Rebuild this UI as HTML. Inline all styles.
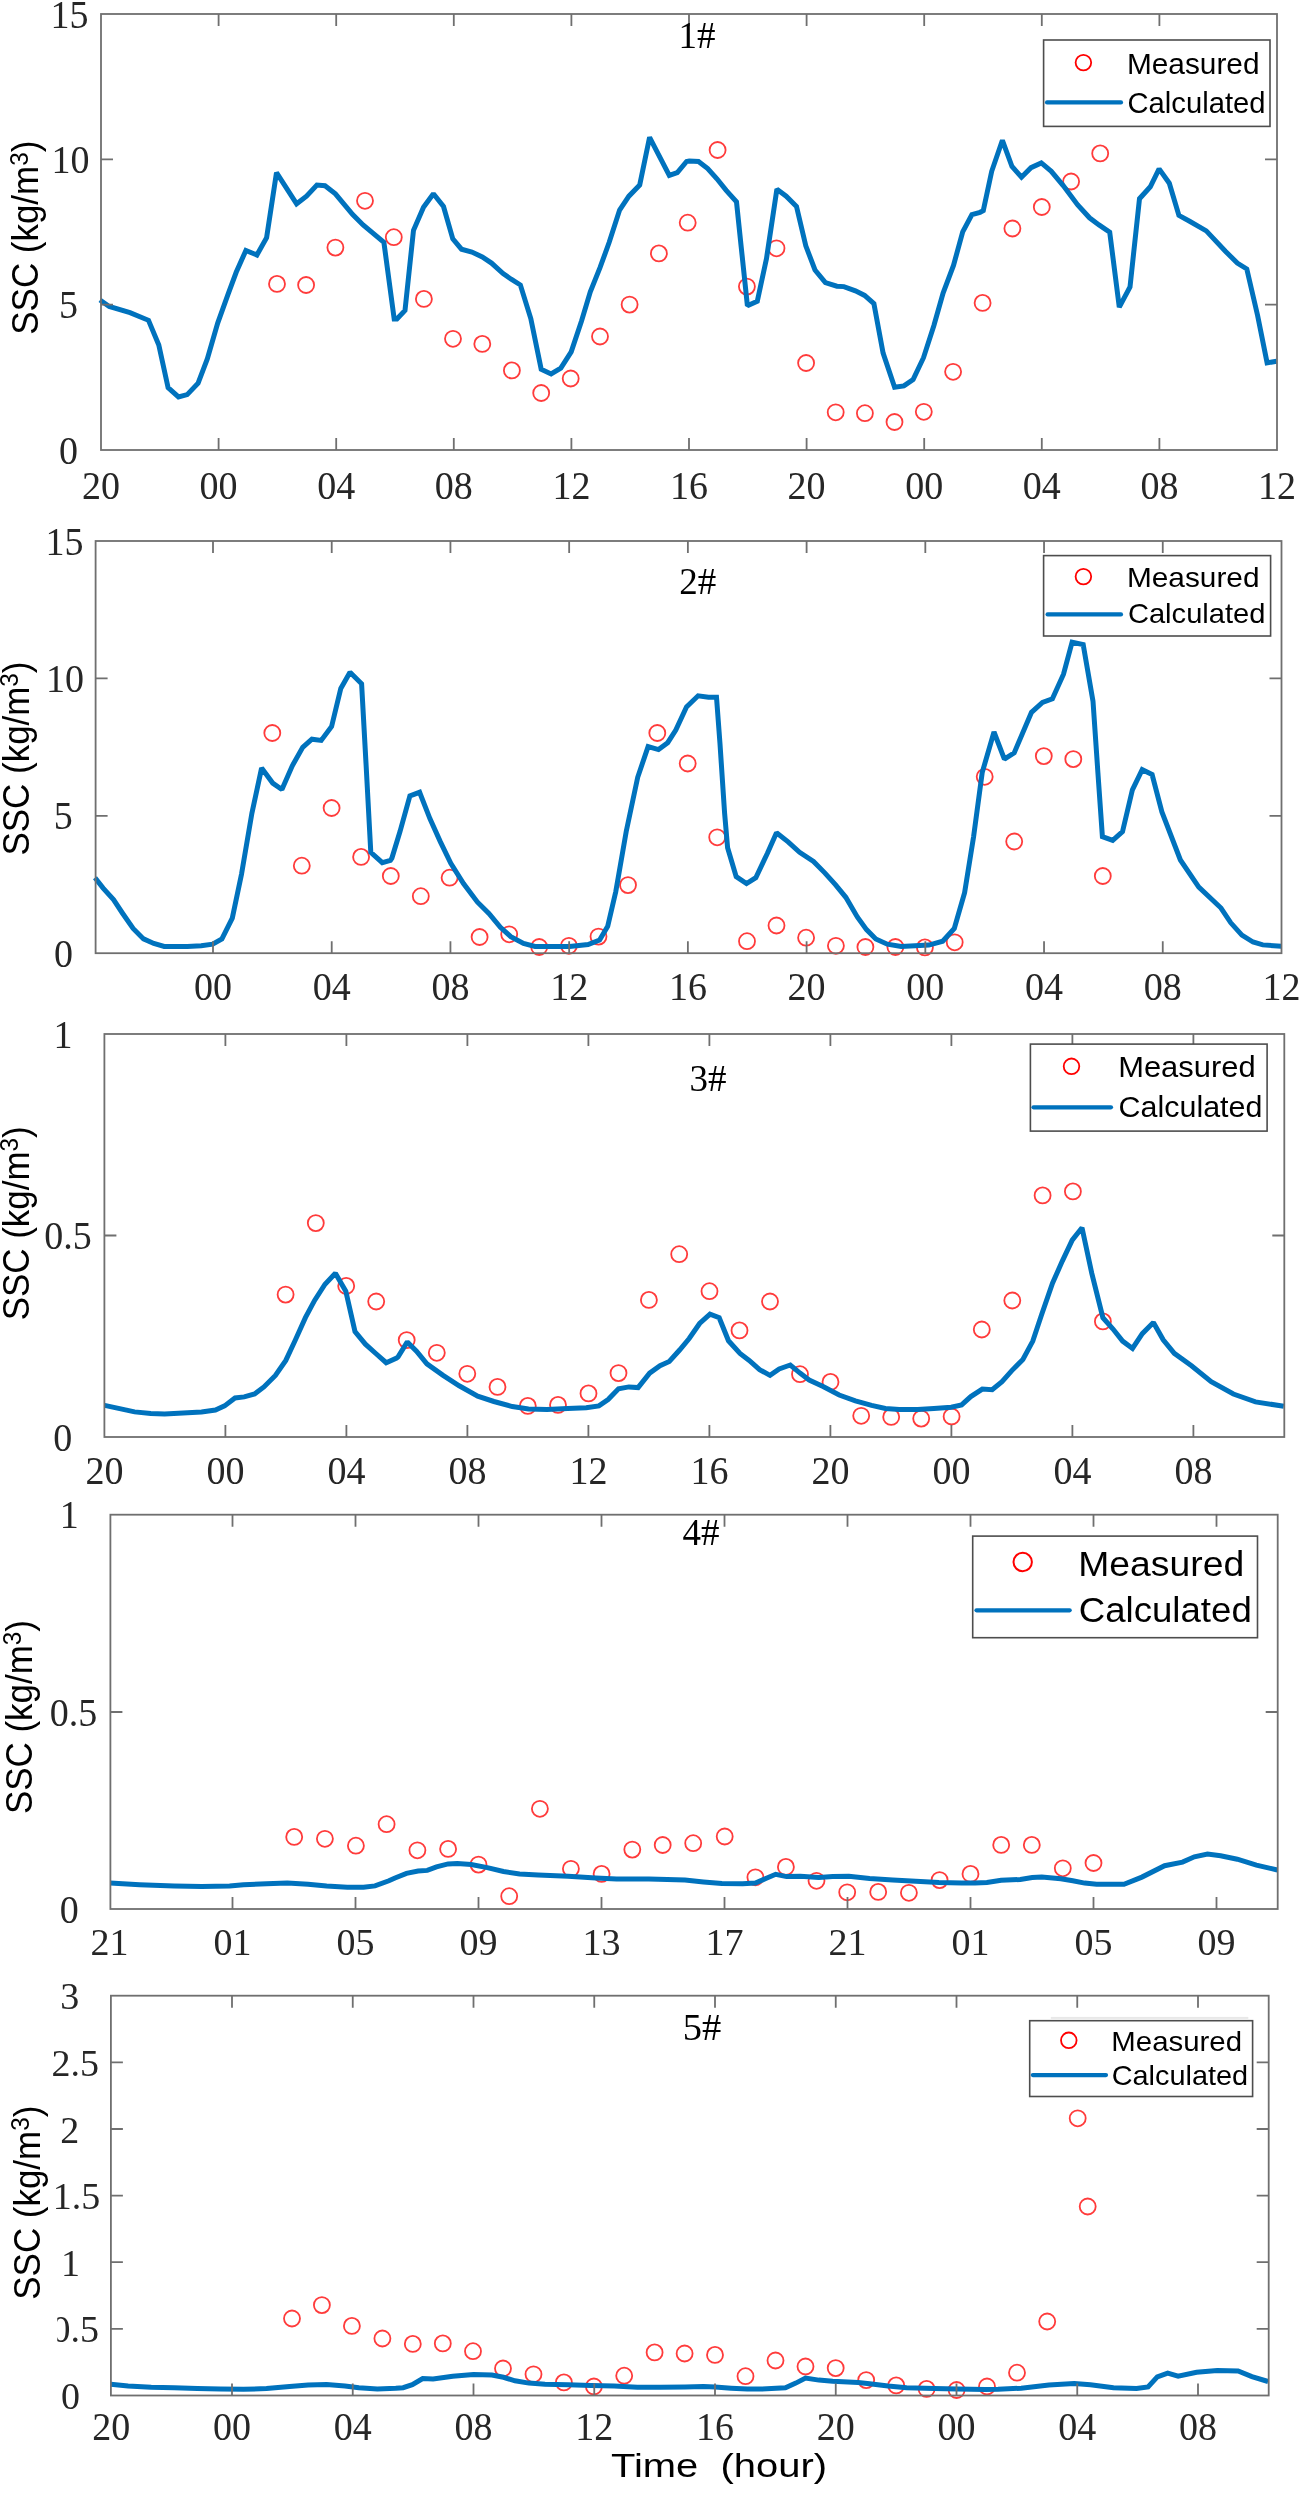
<!DOCTYPE html>
<html><head><meta charset="utf-8"><style>
html,body{margin:0;padding:0;background:#fff;width:1300px;height:2500px;overflow:hidden}
svg{display:block;will-change:transform}
.t{font-family:"Liberation Serif",serif;fill:#262626}
.ti{font-family:"Liberation Serif",serif;fill:#000}
.s{font-family:"Liberation Sans",sans-serif;fill:#000}
</style></head><body>
<svg width="1300" height="2500" viewBox="0 0 1300 2500">
<g><circle cx="277" cy="283.9" r="8" fill="none" stroke="#ff3b3b" stroke-width="1.8"/>
<circle cx="306.1" cy="285" r="8" fill="none" stroke="#ff3b3b" stroke-width="1.8"/>
<circle cx="335.4" cy="247.6" r="8" fill="none" stroke="#ff3b3b" stroke-width="1.8"/>
<circle cx="365" cy="200.8" r="8" fill="none" stroke="#ff3b3b" stroke-width="1.8"/>
<circle cx="393.8" cy="237.2" r="8" fill="none" stroke="#ff3b3b" stroke-width="1.8"/>
<circle cx="423.9" cy="298.9" r="8" fill="none" stroke="#ff3b3b" stroke-width="1.8"/>
<circle cx="453" cy="338.8" r="8" fill="none" stroke="#ff3b3b" stroke-width="1.8"/>
<circle cx="482.3" cy="343.9" r="8" fill="none" stroke="#ff3b3b" stroke-width="1.8"/>
<circle cx="511.9" cy="370.4" r="8" fill="none" stroke="#ff3b3b" stroke-width="1.8"/>
<circle cx="541.2" cy="393" r="8" fill="none" stroke="#ff3b3b" stroke-width="1.8"/>
<circle cx="570.7" cy="378.5" r="8" fill="none" stroke="#ff3b3b" stroke-width="1.8"/>
<circle cx="600" cy="336.5" r="8" fill="none" stroke="#ff3b3b" stroke-width="1.8"/>
<circle cx="629.6" cy="304.6" r="8" fill="none" stroke="#ff3b3b" stroke-width="1.8"/>
<circle cx="658.9" cy="253.4" r="8" fill="none" stroke="#ff3b3b" stroke-width="1.8"/>
<circle cx="687.7" cy="222.7" r="8" fill="none" stroke="#ff3b3b" stroke-width="1.8"/>
<circle cx="717.6" cy="150" r="8" fill="none" stroke="#ff3b3b" stroke-width="1.8"/>
<circle cx="746.9" cy="286.6" r="8" fill="none" stroke="#ff3b3b" stroke-width="1.8"/>
<circle cx="776.5" cy="248.3" r="8" fill="none" stroke="#ff3b3b" stroke-width="1.8"/>
<circle cx="806.1" cy="363" r="8" fill="none" stroke="#ff3b3b" stroke-width="1.8"/>
<circle cx="835.7" cy="412.3" r="8" fill="none" stroke="#ff3b3b" stroke-width="1.8"/>
<circle cx="864.9" cy="413.2" r="8" fill="none" stroke="#ff3b3b" stroke-width="1.8"/>
<circle cx="894.5" cy="422" r="8" fill="none" stroke="#ff3b3b" stroke-width="1.8"/>
<circle cx="923.8" cy="411.8" r="8" fill="none" stroke="#ff3b3b" stroke-width="1.8"/>
<circle cx="953.1" cy="371.8" r="8" fill="none" stroke="#ff3b3b" stroke-width="1.8"/>
<circle cx="982.6" cy="302.9" r="8" fill="none" stroke="#ff3b3b" stroke-width="1.8"/>
<circle cx="1012.4" cy="228.5" r="8" fill="none" stroke="#ff3b3b" stroke-width="1.8"/>
<circle cx="1041.8" cy="207" r="8" fill="none" stroke="#ff3b3b" stroke-width="1.8"/>
<circle cx="1071.1" cy="181.5" r="8" fill="none" stroke="#ff3b3b" stroke-width="1.8"/>
<circle cx="1100.2" cy="153.4" r="8" fill="none" stroke="#ff3b3b" stroke-width="1.8"/>
<polyline points="100,300 109.2,306.5 130,312.7 148.5,320.3 158.8,345 168.1,387.7 178.5,396.9 187.2,394.6 198.1,383.1 207.3,358.9 217.7,323.1 228.1,294.2 236.2,272.3 245.9,250.4 256.9,255 266.6,237.7 276.5,172.6 296.6,203.8 306.5,196.2 316.9,185.1 325,185.8 335.4,193.8 352.7,214.6 363.1,225 383.9,242.3 394.2,319 396.9,319 405,310.4 413.5,230.3 423.5,207.2 433.4,193.8 443.5,206.5 452.8,238.9 461.5,249.2 471.9,252 482.3,256.9 491.5,263.1 503.1,273.5 511.2,279.2 520.4,285 530.8,318.5 541.2,369.2 551.1,373.9 560.8,368.1 571.2,351.9 581.6,320.8 590.3,291.9 600,267.7 609.2,242.3 619.6,210 628.9,196.2 639.7,185.1 649.6,137.3 669.3,175.4 677.3,172.6 686.6,161.5 689.2,161.1 698.5,161.5 707.7,168.5 716.9,178.8 726.2,190.4 736.5,201.9 741.2,246.9 747.4,305.8 757.3,301.2 766.5,258.5 776.9,189.2 786.2,196.2 796.5,206.5 805.8,245.8 815,270 825.4,282.7 836.9,286.2 843.9,286.6 855.4,290.8 864.6,295.4 873.9,303.5 883.1,353.1 894.6,387.3 903.9,385.9 913.1,379.6 923.5,357.7 933.9,325.4 943.1,293.1 953.5,265.4 962.7,231.9 971.9,214.6 980,212.3 983.3,210.6 991.7,171.3 1002.4,140.3 1012,166.5 1021.5,177.2 1031,167.7 1041.3,162.9 1051.3,171.3 1063.2,185.6 1077.5,204.7 1089.5,217.8 1099,224.9 1109.7,232.1 1119.3,307.2 1130,286.9 1139.5,198.7 1150.3,186.8 1159.1,168.9 1169.3,183.2 1178.9,215.4 1189.6,221.3 1206.3,230.9 1225.4,251.2 1237.3,263.1 1246.8,269 1257.6,315.5 1267.1,362.8 1276.7,361.3" fill="none" stroke="#0072bd" stroke-width="5" stroke-linejoin="miter" stroke-miterlimit="1.5"/>
<rect x="101" y="14" width="1176" height="436" fill="none" stroke="#6f6f6f" stroke-width="1.8"/>
<path d="M218.6 450V438M218.6 14V26M336.2 450V438M336.2 14V26M453.8 450V438M453.8 14V26M571.4 450V438M571.4 14V26M689 450V438M689 14V26M806.6 450V438M806.6 14V26M924.2 450V438M924.2 14V26M1041.8 450V438M1041.8 14V26M1159.4 450V438M1159.4 14V26M101 304.7H113M1277 304.7H1265M101 159.3H113M1277 159.3H1265" stroke="#6f6f6f" stroke-width="1.8" fill="none"/>
<text transform="translate(101,499) scale(1,1.07)" text-anchor="middle" class="t" font-size="38">20</text>
<text transform="translate(218.6,499) scale(1,1.07)" text-anchor="middle" class="t" font-size="38">00</text>
<text transform="translate(336.2,499) scale(1,1.07)" text-anchor="middle" class="t" font-size="38">04</text>
<text transform="translate(453.8,499) scale(1,1.07)" text-anchor="middle" class="t" font-size="38">08</text>
<text transform="translate(571.4,499) scale(1,1.07)" text-anchor="middle" class="t" font-size="38">12</text>
<text transform="translate(689,499) scale(1,1.07)" text-anchor="middle" class="t" font-size="38">16</text>
<text transform="translate(806.6,499) scale(1,1.07)" text-anchor="middle" class="t" font-size="38">20</text>
<text transform="translate(924.2,499) scale(1,1.07)" text-anchor="middle" class="t" font-size="38">00</text>
<text transform="translate(1041.8,499) scale(1,1.07)" text-anchor="middle" class="t" font-size="38">04</text>
<text transform="translate(1159.4,499) scale(1,1.07)" text-anchor="middle" class="t" font-size="38">08</text>
<text transform="translate(1277,499) scale(1,1.07)" text-anchor="middle" class="t" font-size="38">12</text>
<text transform="translate(68.5,463.5) scale(1,1.07)" text-anchor="middle" class="t" font-size="38">0</text>
<text transform="translate(68.5,318.2) scale(1,1.07)" text-anchor="middle" class="t" font-size="38">5</text>
<text transform="translate(70.6,172.8) scale(1,1.07)" text-anchor="middle" class="t" font-size="38">10</text>
<text transform="translate(69.6,27.5) scale(1,1.07)" text-anchor="middle" class="t" font-size="38">15</text>
<text x="697" y="48" text-anchor="middle" class="ti" font-size="37">1#</text>
<rect x="1043.6" y="40" width="226.4" height="86.4" fill="#fff" stroke="#4d4d4d" stroke-width="1.6"/>
<circle cx="1083.4" cy="62.6" r="7.8" fill="none" stroke="#ff0000" stroke-width="1.8"/>
<line x1="1047" x2="1121" y1="102.4" y2="102.4" stroke="#0072bd" stroke-width="4.2" stroke-linecap="round"/>
<text x="1126.95" y="74" class="s" font-size="30" textLength="132.56698081071858" lengthAdjust="spacingAndGlyphs">Measured</text>
<text x="1127.52" y="113" class="s" font-size="30" textLength="137.9646435758923" lengthAdjust="spacingAndGlyphs">Calculated</text>
<text transform="translate(38.29,237.7) rotate(-90)" text-anchor="middle" class="s" font-size="36" textLength="194" lengthAdjust="spacingAndGlyphs">SSC (kg/m<tspan dy="-10.5" font-size="25">3</tspan><tspan dy="10.5">)</tspan></text>
</g>
<g><circle cx="272.3" cy="733" r="8" fill="none" stroke="#ff3b3b" stroke-width="1.8"/>
<circle cx="301.8" cy="865.7" r="8" fill="none" stroke="#ff3b3b" stroke-width="1.8"/>
<circle cx="331.6" cy="808" r="8" fill="none" stroke="#ff3b3b" stroke-width="1.8"/>
<circle cx="361.1" cy="856.9" r="8" fill="none" stroke="#ff3b3b" stroke-width="1.8"/>
<circle cx="390.8" cy="876" r="8" fill="none" stroke="#ff3b3b" stroke-width="1.8"/>
<circle cx="420.8" cy="896.2" r="8" fill="none" stroke="#ff3b3b" stroke-width="1.8"/>
<circle cx="449.6" cy="877.7" r="8" fill="none" stroke="#ff3b3b" stroke-width="1.8"/>
<circle cx="479.6" cy="937" r="8" fill="none" stroke="#ff3b3b" stroke-width="1.8"/>
<circle cx="509.2" cy="934.3" r="8" fill="none" stroke="#ff3b3b" stroke-width="1.8"/>
<circle cx="539.2" cy="947" r="8" fill="none" stroke="#ff3b3b" stroke-width="1.8"/>
<circle cx="568.9" cy="945.8" r="8" fill="none" stroke="#ff3b3b" stroke-width="1.8"/>
<circle cx="598.5" cy="936.6" r="8" fill="none" stroke="#ff3b3b" stroke-width="1.8"/>
<circle cx="628" cy="885.1" r="8" fill="none" stroke="#ff3b3b" stroke-width="1.8"/>
<circle cx="657.3" cy="733" r="8" fill="none" stroke="#ff3b3b" stroke-width="1.8"/>
<circle cx="687.7" cy="763.5" r="8" fill="none" stroke="#ff3b3b" stroke-width="1.8"/>
<circle cx="717.2" cy="837.3" r="8" fill="none" stroke="#ff3b3b" stroke-width="1.8"/>
<circle cx="747" cy="941.2" r="8" fill="none" stroke="#ff3b3b" stroke-width="1.8"/>
<circle cx="776.5" cy="925.5" r="8" fill="none" stroke="#ff3b3b" stroke-width="1.8"/>
<circle cx="806.1" cy="937.7" r="8" fill="none" stroke="#ff3b3b" stroke-width="1.8"/>
<circle cx="835.9" cy="945.8" r="8" fill="none" stroke="#ff3b3b" stroke-width="1.8"/>
<circle cx="865.4" cy="947" r="8" fill="none" stroke="#ff3b3b" stroke-width="1.8"/>
<circle cx="895.4" cy="947" r="8" fill="none" stroke="#ff3b3b" stroke-width="1.8"/>
<circle cx="924.9" cy="947.4" r="8" fill="none" stroke="#ff3b3b" stroke-width="1.8"/>
<circle cx="954.7" cy="942.3" r="8" fill="none" stroke="#ff3b3b" stroke-width="1.8"/>
<circle cx="984.7" cy="776.8" r="8" fill="none" stroke="#ff3b3b" stroke-width="1.8"/>
<circle cx="1014.2" cy="841.5" r="8" fill="none" stroke="#ff3b3b" stroke-width="1.8"/>
<circle cx="1043.8" cy="756.1" r="8" fill="none" stroke="#ff3b3b" stroke-width="1.8"/>
<circle cx="1073.3" cy="759.1" r="8" fill="none" stroke="#ff3b3b" stroke-width="1.8"/>
<circle cx="1102.8" cy="876" r="8" fill="none" stroke="#ff3b3b" stroke-width="1.8"/>
<polyline points="95,877.7 103.1,888.1 113.5,899.6 122.7,913.5 133.1,928.5 143.5,938.9 153.8,943.5 164.2,946.5 187.3,946.5 201.2,945.8 212.7,944.2 221.9,938.9 232.3,918.1 241.5,874.2 251.9,813.1 261.6,768.1 272.7,783.1 281.9,789.5 292.3,765.8 302.7,747.3 311.9,739.2 321.2,740.4 331.6,726.5 340.8,688.5 350,672.3 361.6,683.8 366.2,766.9 370.8,852.3 382.3,862.7 390.4,860.4 391.9,858.1 400,831.6 409.9,795.8 419.6,792.3 430,818.9 440.4,841.9 450.8,863.4 463.5,883.5 477.3,901.9 488.9,913.5 500.4,927.3 510.8,936.6 523.5,943.5 535,946.5 569.6,946.5 588.1,944.6 599.6,940 607.7,926.2 615.8,891.5 626.2,831.6 637.7,777.3 648.1,746.6 658.5,749.6 667.7,742.7 675.8,730 686.5,706.9 698.1,695.8 708.5,697.2 716.5,697.2 720,743.9 724.6,813.1 727.6,847.7 736.2,876.6 746.5,883.5 755.8,877.7 767.3,853.5 776.5,832.7 788.1,841.9 799.6,852.3 813.5,861.5 825,873.1 835.4,884.6 845.8,897.3 857.3,916.9 866.5,929.6 875.8,938.9 887.3,944.2 901.2,946.5 928.9,945.1 942.7,941.2 954.3,928.5 964.6,892.7 973.6,836.6 982.2,772.6 994,732 1004.4,759.1 1014.2,752.9 1031.5,712.3 1042.5,702.5 1052.4,698.8 1063.5,674.2 1072.1,642.2 1083.2,644.6 1093,701.2 1097.9,772.6 1102.4,836.6 1112.7,840.3 1122.5,831.7 1132.4,789.8 1142.2,769.7 1152.1,774.6 1161.9,812 1180.4,860 1198.8,887.1 1221,908 1230.8,922.8 1241.9,935.1 1253,942 1262.8,944.9 1281.3,946.2" fill="none" stroke="#0072bd" stroke-width="5" stroke-linejoin="miter" stroke-miterlimit="1.5"/>
<rect x="95.6" y="541" width="1185.9" height="412.2" fill="none" stroke="#6f6f6f" stroke-width="1.8"/>
<path d="M213 953.2V941.2M213 541V553M331.72 953.2V941.2M331.72 541V553M450.44 953.2V941.2M450.44 541V553M569.16 953.2V941.2M569.16 541V553M687.88 953.2V941.2M687.88 541V553M806.6 953.2V941.2M806.6 541V553M925.32 953.2V941.2M925.32 541V553M1044.04 953.2V941.2M1044.04 541V553M1162.76 953.2V941.2M1162.76 541V553M95.6 815.8H107.6M1281.5 815.8H1269.5M95.6 678.4H107.6M1281.5 678.4H1269.5" stroke="#6f6f6f" stroke-width="1.8" fill="none"/>
<text transform="translate(213,1000) scale(1,1.07)" text-anchor="middle" class="t" font-size="38">00</text>
<text transform="translate(331.72,1000) scale(1,1.07)" text-anchor="middle" class="t" font-size="38">04</text>
<text transform="translate(450.44,1000) scale(1,1.07)" text-anchor="middle" class="t" font-size="38">08</text>
<text transform="translate(569.16,1000) scale(1,1.07)" text-anchor="middle" class="t" font-size="38">12</text>
<text transform="translate(687.88,1000) scale(1,1.07)" text-anchor="middle" class="t" font-size="38">16</text>
<text transform="translate(806.6,1000) scale(1,1.07)" text-anchor="middle" class="t" font-size="38">20</text>
<text transform="translate(925.32,1000) scale(1,1.07)" text-anchor="middle" class="t" font-size="38">00</text>
<text transform="translate(1044.04,1000) scale(1,1.07)" text-anchor="middle" class="t" font-size="38">04</text>
<text transform="translate(1162.76,1000) scale(1,1.07)" text-anchor="middle" class="t" font-size="38">08</text>
<text transform="translate(1281.48,1000) scale(1,1.07)" text-anchor="middle" class="t" font-size="38">12</text>
<text transform="translate(63.5,966.7) scale(1,1.07)" text-anchor="middle" class="t" font-size="38">0</text>
<text transform="translate(63.3,829.3) scale(1,1.07)" text-anchor="middle" class="t" font-size="38">5</text>
<text transform="translate(65,691.9) scale(1,1.07)" text-anchor="middle" class="t" font-size="38">10</text>
<text transform="translate(64.5,554.5) scale(1,1.07)" text-anchor="middle" class="t" font-size="38">15</text>
<text x="697.7" y="594" text-anchor="middle" class="ti" font-size="37">2#</text>
<rect x="1043.6" y="555.6" width="227" height="80.4" fill="#fff" stroke="#4d4d4d" stroke-width="1.6"/>
<circle cx="1083.4" cy="576.6" r="7.8" fill="none" stroke="#ff0000" stroke-width="1.8"/>
<line x1="1047.6" x2="1121" y1="614.4" y2="614.4" stroke="#0072bd" stroke-width="4.2" stroke-linecap="round"/>
<text x="1126.95" y="587" class="s" font-size="28" textLength="132.56698081071858" lengthAdjust="spacingAndGlyphs">Measured</text>
<text x="1127.92" y="623" class="s" font-size="28" textLength="137.55464463510202" lengthAdjust="spacingAndGlyphs">Calculated</text>
<text transform="translate(28.89,758.5) rotate(-90)" text-anchor="middle" class="s" font-size="36" textLength="194" lengthAdjust="spacingAndGlyphs">SSC (kg/m<tspan dy="-10.5" font-size="25">3</tspan><tspan dy="10.5">)</tspan></text>
</g>
<g><circle cx="285.6" cy="1294.6" r="8" fill="none" stroke="#ff3b3b" stroke-width="1.8"/>
<circle cx="315.8" cy="1223.1" r="8" fill="none" stroke="#ff3b3b" stroke-width="1.8"/>
<circle cx="346.2" cy="1285.9" r="8" fill="none" stroke="#ff3b3b" stroke-width="1.8"/>
<circle cx="376.2" cy="1301.5" r="8" fill="none" stroke="#ff3b3b" stroke-width="1.8"/>
<circle cx="406.7" cy="1340.1" r="8" fill="none" stroke="#ff3b3b" stroke-width="1.8"/>
<circle cx="436.8" cy="1352.8" r="8" fill="none" stroke="#ff3b3b" stroke-width="1.8"/>
<circle cx="467.3" cy="1373.8" r="8" fill="none" stroke="#ff3b3b" stroke-width="1.8"/>
<circle cx="497.5" cy="1386.9" r="8" fill="none" stroke="#ff3b3b" stroke-width="1.8"/>
<circle cx="527.8" cy="1405.9" r="8" fill="none" stroke="#ff3b3b" stroke-width="1.8"/>
<circle cx="558" cy="1404.9" r="8" fill="none" stroke="#ff3b3b" stroke-width="1.8"/>
<circle cx="588.5" cy="1393.4" r="8" fill="none" stroke="#ff3b3b" stroke-width="1.8"/>
<circle cx="618.5" cy="1373.1" r="8" fill="none" stroke="#ff3b3b" stroke-width="1.8"/>
<circle cx="648.9" cy="1299.9" r="8" fill="none" stroke="#ff3b3b" stroke-width="1.8"/>
<circle cx="679.2" cy="1254.2" r="8" fill="none" stroke="#ff3b3b" stroke-width="1.8"/>
<circle cx="709.5" cy="1291.2" r="8" fill="none" stroke="#ff3b3b" stroke-width="1.8"/>
<circle cx="739.5" cy="1330.4" r="8" fill="none" stroke="#ff3b3b" stroke-width="1.8"/>
<circle cx="770" cy="1301.5" r="8" fill="none" stroke="#ff3b3b" stroke-width="1.8"/>
<circle cx="800" cy="1374.2" r="8" fill="none" stroke="#ff3b3b" stroke-width="1.8"/>
<circle cx="830.5" cy="1381.9" r="8" fill="none" stroke="#ff3b3b" stroke-width="1.8"/>
<circle cx="861.2" cy="1415.8" r="8" fill="none" stroke="#ff3b3b" stroke-width="1.8"/>
<circle cx="891.2" cy="1416.9" r="8" fill="none" stroke="#ff3b3b" stroke-width="1.8"/>
<circle cx="921.2" cy="1418.6" r="8" fill="none" stroke="#ff3b3b" stroke-width="1.8"/>
<circle cx="951.6" cy="1416.5" r="8" fill="none" stroke="#ff3b3b" stroke-width="1.8"/>
<circle cx="981.8" cy="1329.5" r="8" fill="none" stroke="#ff3b3b" stroke-width="1.8"/>
<circle cx="1012.3" cy="1300.5" r="8" fill="none" stroke="#ff3b3b" stroke-width="1.8"/>
<circle cx="1042.6" cy="1195.4" r="8" fill="none" stroke="#ff3b3b" stroke-width="1.8"/>
<circle cx="1072.9" cy="1191.4" r="8" fill="none" stroke="#ff3b3b" stroke-width="1.8"/>
<circle cx="1102.9" cy="1321.4" r="8" fill="none" stroke="#ff3b3b" stroke-width="1.8"/>
<polyline points="104.6,1405.4 118.5,1408.4 134.6,1411.9 150.8,1413.5 164.6,1413.9 187.7,1412.8 201.5,1411.9 215.4,1410 224.6,1405.9 235,1398 244.2,1396.9 254.6,1393.9 263.9,1386.9 275.4,1375.4 285.8,1360.4 295,1340.8 305.4,1317.7 314.6,1300.4 325,1284.2 335.4,1273.2 345.8,1291.2 355,1331.6 365.4,1344.2 375.8,1353.5 386.2,1362.7 396.6,1358.1 398.1,1356.9 407.3,1341.9 416.5,1351.2 426.9,1363.9 443.1,1375.4 459.2,1385.8 477.7,1396.2 493.9,1401.5 512.3,1406.6 528.5,1408.9 546.9,1409.6 567.7,1408.4 586.2,1407.7 598.9,1405.9 608.1,1399.6 618.5,1388.8 628.9,1386.9 638.1,1387.6 649.6,1373.1 660,1365.7 669.3,1361.5 679.6,1350 689.2,1338.5 699.6,1323.5 710,1314.2 719.2,1317.7 728.5,1340.8 740,1353.5 749.2,1360.4 759.6,1369.6 770,1375.4 779.2,1368.9 790.3,1365 800,1373.1 809.2,1380 823.1,1386.5 839.2,1395 855.4,1400.8 871.6,1405.4 885.4,1408.4 899.2,1409.6 917.7,1409.6 933.9,1408.4 951.2,1407.2 961.6,1404.9 970.8,1396.6 982.3,1389.1 992.2,1389.8 1002,1381.7 1011.8,1370.6 1022.9,1359.5 1032.8,1341.1 1041.4,1315.2 1052.5,1283.2 1062.3,1261.1 1072.2,1240.2 1082,1227.8 1091.8,1273.4 1102.9,1317.7 1112.8,1328.8 1122.6,1341.1 1132.5,1348.5 1142.3,1333.7 1153.4,1322.6 1163.2,1339.8 1174.3,1353.4 1191.5,1365.7 1211.2,1381.7 1233.4,1394 1255.5,1401.9 1283.8,1406.3" fill="none" stroke="#0072bd" stroke-width="5" stroke-linejoin="miter" stroke-miterlimit="1.5"/>
<rect x="104.4" y="1034" width="1179.9" height="403" fill="none" stroke="#6f6f6f" stroke-width="1.8"/>
<path d="M225.4 1437V1425M225.4 1034V1046M346.4 1437V1425M346.4 1034V1046M467.4 1437V1425M467.4 1034V1046M588.4 1437V1425M588.4 1034V1046M709.4 1437V1425M709.4 1034V1046M830.4 1437V1425M830.4 1034V1046M951.4 1437V1425M951.4 1034V1046M1072.4 1437V1425M1072.4 1034V1046M1193.4 1437V1425M1193.4 1034V1046M104.4 1235.5H116.4M1284.3 1235.5H1272.3" stroke="#6f6f6f" stroke-width="1.8" fill="none"/>
<text transform="translate(104.4,1484) scale(1,1.07)" text-anchor="middle" class="t" font-size="38">20</text>
<text transform="translate(225.4,1484) scale(1,1.07)" text-anchor="middle" class="t" font-size="38">00</text>
<text transform="translate(346.4,1484) scale(1,1.07)" text-anchor="middle" class="t" font-size="38">04</text>
<text transform="translate(467.4,1484) scale(1,1.07)" text-anchor="middle" class="t" font-size="38">08</text>
<text transform="translate(588.4,1484) scale(1,1.07)" text-anchor="middle" class="t" font-size="38">12</text>
<text transform="translate(709.4,1484) scale(1,1.07)" text-anchor="middle" class="t" font-size="38">16</text>
<text transform="translate(830.4,1484) scale(1,1.07)" text-anchor="middle" class="t" font-size="38">20</text>
<text transform="translate(951.4,1484) scale(1,1.07)" text-anchor="middle" class="t" font-size="38">00</text>
<text transform="translate(1072.4,1484) scale(1,1.07)" text-anchor="middle" class="t" font-size="38">04</text>
<text transform="translate(1193.4,1484) scale(1,1.07)" text-anchor="middle" class="t" font-size="38">08</text>
<text transform="translate(62.7,1450.5) scale(1,1.07)" text-anchor="middle" class="t" font-size="38">0</text>
<text transform="translate(68,1249) scale(1,1.07)" text-anchor="middle" class="t" font-size="38">0.5</text>
<text transform="translate(63,1047.5) scale(1,1.07)" text-anchor="middle" class="t" font-size="38">1</text>
<text x="707.9" y="1090.5" text-anchor="middle" class="ti" font-size="37">3#</text>
<rect x="1030.4" y="1044.1" width="236.7" height="87" fill="#fff" stroke="#4d4d4d" stroke-width="1.6"/>
<circle cx="1071.5" cy="1066.3" r="7.8" fill="none" stroke="#ff0000" stroke-width="1.8"/>
<line x1="1033.5" x2="1111" y1="1107.3" y2="1107.3" stroke="#0072bd" stroke-width="4.2" stroke-linecap="round"/>
<text x="1118.16" y="1077.4" class="s" font-size="30" textLength="137.42708073123637" lengthAdjust="spacingAndGlyphs">Measured</text>
<text x="1118.55" y="1117.2" class="s" font-size="30" textLength="143.90962821734996" lengthAdjust="spacingAndGlyphs">Calculated</text>
<text transform="translate(28.79,1223.3) rotate(-90)" text-anchor="middle" class="s" font-size="36" textLength="194" lengthAdjust="spacingAndGlyphs">SSC (kg/m<tspan dy="-10.5" font-size="25">3</tspan><tspan dy="10.5">)</tspan></text>
</g>
<g><circle cx="294.2" cy="1836.9" r="8" fill="none" stroke="#ff3b3b" stroke-width="1.8"/>
<circle cx="324.9" cy="1838.8" r="8" fill="none" stroke="#ff3b3b" stroke-width="1.8"/>
<circle cx="355.9" cy="1845.7" r="8" fill="none" stroke="#ff3b3b" stroke-width="1.8"/>
<circle cx="386.6" cy="1824.2" r="8" fill="none" stroke="#ff3b3b" stroke-width="1.8"/>
<circle cx="417.4" cy="1850.3" r="8" fill="none" stroke="#ff3b3b" stroke-width="1.8"/>
<circle cx="448.1" cy="1848.9" r="8" fill="none" stroke="#ff3b3b" stroke-width="1.8"/>
<circle cx="478.5" cy="1864.6" r="8" fill="none" stroke="#ff3b3b" stroke-width="1.8"/>
<circle cx="509.2" cy="1896.2" r="8" fill="none" stroke="#ff3b3b" stroke-width="1.8"/>
<circle cx="539.9" cy="1808.8" r="8" fill="none" stroke="#ff3b3b" stroke-width="1.8"/>
<circle cx="570.9" cy="1868.8" r="8" fill="none" stroke="#ff3b3b" stroke-width="1.8"/>
<circle cx="601.6" cy="1873.9" r="8" fill="none" stroke="#ff3b3b" stroke-width="1.8"/>
<circle cx="632.3" cy="1849.6" r="8" fill="none" stroke="#ff3b3b" stroke-width="1.8"/>
<circle cx="662.7" cy="1845" r="8" fill="none" stroke="#ff3b3b" stroke-width="1.8"/>
<circle cx="693.2" cy="1843.2" r="8" fill="none" stroke="#ff3b3b" stroke-width="1.8"/>
<circle cx="724.7" cy="1836.5" r="8" fill="none" stroke="#ff3b3b" stroke-width="1.8"/>
<circle cx="755.4" cy="1877.3" r="8" fill="none" stroke="#ff3b3b" stroke-width="1.8"/>
<circle cx="785.9" cy="1866.9" r="8" fill="none" stroke="#ff3b3b" stroke-width="1.8"/>
<circle cx="816.5" cy="1880.8" r="8" fill="none" stroke="#ff3b3b" stroke-width="1.8"/>
<circle cx="847.2" cy="1892.3" r="8" fill="none" stroke="#ff3b3b" stroke-width="1.8"/>
<circle cx="878.2" cy="1891.9" r="8" fill="none" stroke="#ff3b3b" stroke-width="1.8"/>
<circle cx="908.9" cy="1892.8" r="8" fill="none" stroke="#ff3b3b" stroke-width="1.8"/>
<circle cx="939.6" cy="1880.1" r="8" fill="none" stroke="#ff3b3b" stroke-width="1.8"/>
<circle cx="970.5" cy="1873.9" r="8" fill="none" stroke="#ff3b3b" stroke-width="1.8"/>
<circle cx="1001.2" cy="1844.9" r="8" fill="none" stroke="#ff3b3b" stroke-width="1.8"/>
<circle cx="1031.8" cy="1844.9" r="8" fill="none" stroke="#ff3b3b" stroke-width="1.8"/>
<circle cx="1062.8" cy="1868.3" r="8" fill="none" stroke="#ff3b3b" stroke-width="1.8"/>
<circle cx="1093.5" cy="1863" r="8" fill="none" stroke="#ff3b3b" stroke-width="1.8"/>
<polyline points="110.1,1883.1 139.6,1884.7 174.2,1885.9 201.9,1886.5 229.6,1886.1 243.5,1884.7 266.5,1883.8 287.3,1883.1 308.1,1884.2 326.6,1886.1 347.3,1887.2 363.5,1887.2 375,1885.9 388.9,1880.8 395,1878 406.5,1873.4 418.1,1871.1 427.3,1870.4 436.5,1866.9 448.1,1863.9 457.3,1863.5 471.2,1864.6 487.3,1867.6 503.5,1871.5 519.6,1873.9 538.1,1875 568.1,1876.2 595.8,1878 616.6,1878.9 648.9,1878.9 667.3,1879.6 685,1880.1 703.5,1881.9 721.9,1883.5 742.7,1883.8 755.4,1883.1 765.8,1878.5 775.7,1874.3 786.5,1876.6 800.4,1876.2 818.9,1877.5 832.7,1876.6 848.9,1876.2 869.6,1878.5 892.7,1880.1 915.8,1881.2 938.9,1882.6 961.9,1883.1 975,1883.1 986.9,1882.4 1001.2,1880.2 1020.3,1879.5 1032.2,1877.6 1041.8,1876.9 1060.8,1878.8 1072.8,1880.7 1084.7,1883.1 1096.6,1884.3 1124,1884.3 1141.9,1877.1 1164.6,1865.7 1182.5,1862.1 1194.4,1856.8 1207.5,1854 1220.6,1855.7 1237.3,1859.2 1256.4,1865.2 1277.4,1870" fill="none" stroke="#0072bd" stroke-width="5" stroke-linejoin="miter" stroke-miterlimit="1.5"/>
<rect x="110.4" y="1514.7" width="1167.3" height="394.3" fill="none" stroke="#6f6f6f" stroke-width="1.8"/>
<path d="M232.5 1909V1897M232.5 1514.7V1526.7M355.5 1909V1897M355.5 1514.7V1526.7M478.5 1909V1897M478.5 1514.7V1526.7M601.5 1909V1897M601.5 1514.7V1526.7M724.5 1909V1897M724.5 1514.7V1526.7M847.5 1909V1897M847.5 1514.7V1526.7M970.5 1909V1897M970.5 1514.7V1526.7M1093.5 1909V1897M1093.5 1514.7V1526.7M1216.5 1909V1897M1216.5 1514.7V1526.7M110.4 1712H122.4M1277.7 1712H1265.7" stroke="#6f6f6f" stroke-width="1.8" fill="none"/>
<text transform="translate(109.5,1954.5) scale(1,0.99)" text-anchor="middle" class="t" font-size="38">21</text>
<text transform="translate(232.5,1954.5) scale(1,0.99)" text-anchor="middle" class="t" font-size="38">01</text>
<text transform="translate(355.5,1954.5) scale(1,0.99)" text-anchor="middle" class="t" font-size="38">05</text>
<text transform="translate(478.5,1954.5) scale(1,0.99)" text-anchor="middle" class="t" font-size="38">09</text>
<text transform="translate(601.5,1954.5) scale(1,0.99)" text-anchor="middle" class="t" font-size="38">13</text>
<text transform="translate(724.5,1954.5) scale(1,0.99)" text-anchor="middle" class="t" font-size="38">17</text>
<text transform="translate(847.5,1954.5) scale(1,0.99)" text-anchor="middle" class="t" font-size="38">21</text>
<text transform="translate(970.5,1954.5) scale(1,0.99)" text-anchor="middle" class="t" font-size="38">01</text>
<text transform="translate(1093.5,1954.5) scale(1,0.99)" text-anchor="middle" class="t" font-size="38">05</text>
<text transform="translate(1216.5,1954.5) scale(1,0.99)" text-anchor="middle" class="t" font-size="38">09</text>
<text transform="translate(69.3,1922.5) scale(1,1.07)" text-anchor="middle" class="t" font-size="38">0</text>
<text transform="translate(73.6,1725.5) scale(1,1.07)" text-anchor="middle" class="t" font-size="38">0.5</text>
<text transform="translate(69.2,1528.2) scale(1,1.07)" text-anchor="middle" class="t" font-size="38">1</text>
<text x="701" y="1544.5" text-anchor="middle" class="ti" font-size="37">4#</text>
<rect x="972.7" y="1536.1" width="284.8" height="101.6" fill="#fff" stroke="#4d4d4d" stroke-width="1.6"/>
<circle cx="1022.7" cy="1562" r="9.2" fill="none" stroke="#ff0000" stroke-width="2"/>
<line x1="976.5" x2="1069.7" y1="1610.3" y2="1610.3" stroke="#0072bd" stroke-width="4.2" stroke-linecap="round"/>
<text x="1078.24" y="1576" class="s" font-size="35.5" textLength="165.96724196661748" lengthAdjust="spacingAndGlyphs">Measured</text>
<text x="1078.74" y="1621.7" class="s" font-size="35.5" textLength="173.01955301345217" lengthAdjust="spacingAndGlyphs">Calculated</text>
<text transform="translate(31.54,1717.1) rotate(-90)" text-anchor="middle" class="s" font-size="36" textLength="194" lengthAdjust="spacingAndGlyphs">SSC (kg/m<tspan dy="-10.5" font-size="25">3</tspan><tspan dy="10.5">)</tspan></text>
</g>
<g><circle cx="292" cy="2318.5" r="8" fill="none" stroke="#ff3b3b" stroke-width="1.8"/>
<circle cx="321.9" cy="2305.1" r="8" fill="none" stroke="#ff3b3b" stroke-width="1.8"/>
<circle cx="351.9" cy="2325.9" r="8" fill="none" stroke="#ff3b3b" stroke-width="1.8"/>
<circle cx="382.4" cy="2338.5" r="8" fill="none" stroke="#ff3b3b" stroke-width="1.8"/>
<circle cx="412.8" cy="2343.9" r="8" fill="none" stroke="#ff3b3b" stroke-width="1.8"/>
<circle cx="442.8" cy="2343.4" r="8" fill="none" stroke="#ff3b3b" stroke-width="1.8"/>
<circle cx="473" cy="2351.2" r="8" fill="none" stroke="#ff3b3b" stroke-width="1.8"/>
<circle cx="503" cy="2368.5" r="8" fill="none" stroke="#ff3b3b" stroke-width="1.8"/>
<circle cx="533.5" cy="2374.3" r="8" fill="none" stroke="#ff3b3b" stroke-width="1.8"/>
<circle cx="563.9" cy="2382.4" r="8" fill="none" stroke="#ff3b3b" stroke-width="1.8"/>
<circle cx="593.9" cy="2386.5" r="8" fill="none" stroke="#ff3b3b" stroke-width="1.8"/>
<circle cx="624.2" cy="2375.7" r="8" fill="none" stroke="#ff3b3b" stroke-width="1.8"/>
<circle cx="654.6" cy="2352.4" r="8" fill="none" stroke="#ff3b3b" stroke-width="1.8"/>
<circle cx="684.6" cy="2353.5" r="8" fill="none" stroke="#ff3b3b" stroke-width="1.8"/>
<circle cx="715" cy="2354.9" r="8" fill="none" stroke="#ff3b3b" stroke-width="1.8"/>
<circle cx="745.5" cy="2376.2" r="8" fill="none" stroke="#ff3b3b" stroke-width="1.8"/>
<circle cx="775.5" cy="2360.5" r="8" fill="none" stroke="#ff3b3b" stroke-width="1.8"/>
<circle cx="805.5" cy="2366.5" r="8" fill="none" stroke="#ff3b3b" stroke-width="1.8"/>
<circle cx="835.7" cy="2368.1" r="8" fill="none" stroke="#ff3b3b" stroke-width="1.8"/>
<circle cx="866.2" cy="2380.1" r="8" fill="none" stroke="#ff3b3b" stroke-width="1.8"/>
<circle cx="896.2" cy="2385.4" r="8" fill="none" stroke="#ff3b3b" stroke-width="1.8"/>
<circle cx="926.6" cy="2388.9" r="8" fill="none" stroke="#ff3b3b" stroke-width="1.8"/>
<circle cx="956.6" cy="2390" r="8" fill="none" stroke="#ff3b3b" stroke-width="1.8"/>
<circle cx="987" cy="2386.5" r="8" fill="none" stroke="#ff3b3b" stroke-width="1.8"/>
<circle cx="1017" cy="2372.7" r="8" fill="none" stroke="#ff3b3b" stroke-width="1.8"/>
<circle cx="1047.2" cy="2321.5" r="8" fill="none" stroke="#ff3b3b" stroke-width="1.8"/>
<circle cx="1077.7" cy="2118.3" r="8" fill="none" stroke="#ff3b3b" stroke-width="1.8"/>
<circle cx="1087.7" cy="2206.5" r="8" fill="none" stroke="#ff3b3b" stroke-width="1.8"/>
<polyline points="110.8,2384.2 128.1,2385.9 151.2,2387.2 174.2,2387.7 197.3,2388.4 220.4,2389.1 243.5,2389.3 266.5,2388.6 289.6,2386.5 308.1,2384.9 326.6,2384.5 345,2385.9 358.9,2387.7 377.3,2388.9 395.8,2388.2 403.1,2387.7 412.3,2384.7 422.7,2378.5 433.1,2378.9 452.7,2376.2 473.5,2374.5 491.9,2375 503.5,2377.3 515,2380.8 528.9,2383.1 545,2384.2 568.1,2384.7 591.2,2385.4 614.2,2386.1 637.3,2387.2 660.4,2387.2 685,2387 703.5,2386.5 715,2387 731.2,2388.2 747.3,2389.1 761.2,2389.1 785.4,2387.7 795.8,2383.1 805.5,2378 818.9,2380.1 832.7,2381.2 858.1,2382.4 869.6,2383.8 888.1,2386.1 906.6,2387.7 934.2,2388.6 957.3,2389.1 985,2389.5 998.1,2389.3 1021.2,2388.2 1048.9,2384.9 1074.2,2383.5 1090.4,2384.7 1113.5,2387.7 1136.5,2388.4 1148.1,2387 1157.3,2376.9 1167.7,2373.2 1178.1,2376.2 1196.6,2372.2 1217.3,2370.4 1238.1,2370.9 1251.9,2376.6 1268.1,2381.5" fill="none" stroke="#0072bd" stroke-width="5" stroke-linejoin="miter" stroke-miterlimit="1.5"/>
<rect x="110.9" y="1995.7" width="1157.8" height="399.8" fill="none" stroke="#6f6f6f" stroke-width="1.8"/>
<path d="M232 2395.5V2383.5M232 1995.7V2007.7M352.75 2395.5V2383.5M352.75 1995.7V2007.7M473.5 2395.5V2383.5M473.5 1995.7V2007.7M594.25 2395.5V2383.5M594.25 1995.7V2007.7M715 2395.5V2383.5M715 1995.7V2007.7M835.75 2395.5V2383.5M835.75 1995.7V2007.7M956.5 2395.5V2383.5M956.5 1995.7V2007.7M1077.25 2395.5V2383.5M1077.25 1995.7V2007.7M1198 2395.5V2383.5M1198 1995.7V2007.7M110.9 2328.9H122.9M1268.7 2328.9H1256.7M110.9 2262.2H122.9M1268.7 2262.2H1256.7M110.9 2195.6H122.9M1268.7 2195.6H1256.7M110.9 2129H122.9M1268.7 2129H1256.7M110.9 2062.3H122.9M1268.7 2062.3H1256.7" stroke="#6f6f6f" stroke-width="1.8" fill="none"/>
<text transform="translate(111.25,2440) scale(1,1.03)" text-anchor="middle" class="t" font-size="38">20</text>
<text transform="translate(232,2440) scale(1,1.03)" text-anchor="middle" class="t" font-size="38">00</text>
<text transform="translate(352.75,2440) scale(1,1.03)" text-anchor="middle" class="t" font-size="38">04</text>
<text transform="translate(473.5,2440) scale(1,1.03)" text-anchor="middle" class="t" font-size="38">08</text>
<text transform="translate(594.25,2440) scale(1,1.03)" text-anchor="middle" class="t" font-size="38">12</text>
<text transform="translate(715,2440) scale(1,1.03)" text-anchor="middle" class="t" font-size="38">16</text>
<text transform="translate(835.75,2440) scale(1,1.03)" text-anchor="middle" class="t" font-size="38">20</text>
<text transform="translate(956.5,2440) scale(1,1.03)" text-anchor="middle" class="t" font-size="38">00</text>
<text transform="translate(1077.25,2440) scale(1,1.03)" text-anchor="middle" class="t" font-size="38">04</text>
<text transform="translate(1198,2440) scale(1,1.03)" text-anchor="middle" class="t" font-size="38">08</text>
<text transform="translate(70.4,2409) scale(1,0.98)" text-anchor="middle" class="t" font-size="38">0</text>
<text transform="translate(75.2,2342.4) scale(1,0.98)" text-anchor="middle" class="t" font-size="38">0.5</text>
<text transform="translate(70.4,2275.7) scale(1,0.98)" text-anchor="middle" class="t" font-size="38">1</text>
<text transform="translate(76.5,2209.1) scale(1,0.98)" text-anchor="middle" class="t" font-size="38">1.5</text>
<text transform="translate(69.8,2142.5) scale(1,0.98)" text-anchor="middle" class="t" font-size="38">2</text>
<text transform="translate(75.2,2075.8) scale(1,0.98)" text-anchor="middle" class="t" font-size="38">2.5</text>
<text transform="translate(69.8,2009.2) scale(1,0.98)" text-anchor="middle" class="t" font-size="38">3</text>
<text x="702" y="2039.5" text-anchor="middle" class="ti" font-size="38.5">5#</text>
<rect x="1029.7" y="2020.7" width="222.9" height="75.8" fill="#fff" stroke="#4d4d4d" stroke-width="1.6"/>
<circle cx="1068.8" cy="2040.3" r="7.8" fill="none" stroke="#ff0000" stroke-width="1.8"/>
<line x1="1032.8" x2="1106" y1="2075.1" y2="2075.1" stroke="#0072bd" stroke-width="4.2" stroke-linecap="round"/>
<text x="1111.39" y="2050.6" class="s" font-size="27.5" textLength="130.60225956625408" lengthAdjust="spacingAndGlyphs">Measured</text>
<text x="1111.73" y="2084.9" class="s" font-size="27.5" textLength="136.42714754792914" lengthAdjust="spacingAndGlyphs">Calculated</text>
<text transform="translate(39.59,2202.7) rotate(-90)" text-anchor="middle" class="s" font-size="36" textLength="194" lengthAdjust="spacingAndGlyphs">SSC (kg/m<tspan dy="-10.5" font-size="25">3</tspan><tspan dy="10.5">)</tspan></text>
<rect x="49" y="2314" width="8.3" height="32" fill="#fff"/><rect x="1050.8" y="2016.9" width="197.5" height="2" fill="#e8e8e8"/></g>
<text x="611.01" y="2477" class="s" font-size="34" textLength="216.05" lengthAdjust="spacingAndGlyphs" xml:space="preserve">Time  (hour)</text>
</svg></body></html>
